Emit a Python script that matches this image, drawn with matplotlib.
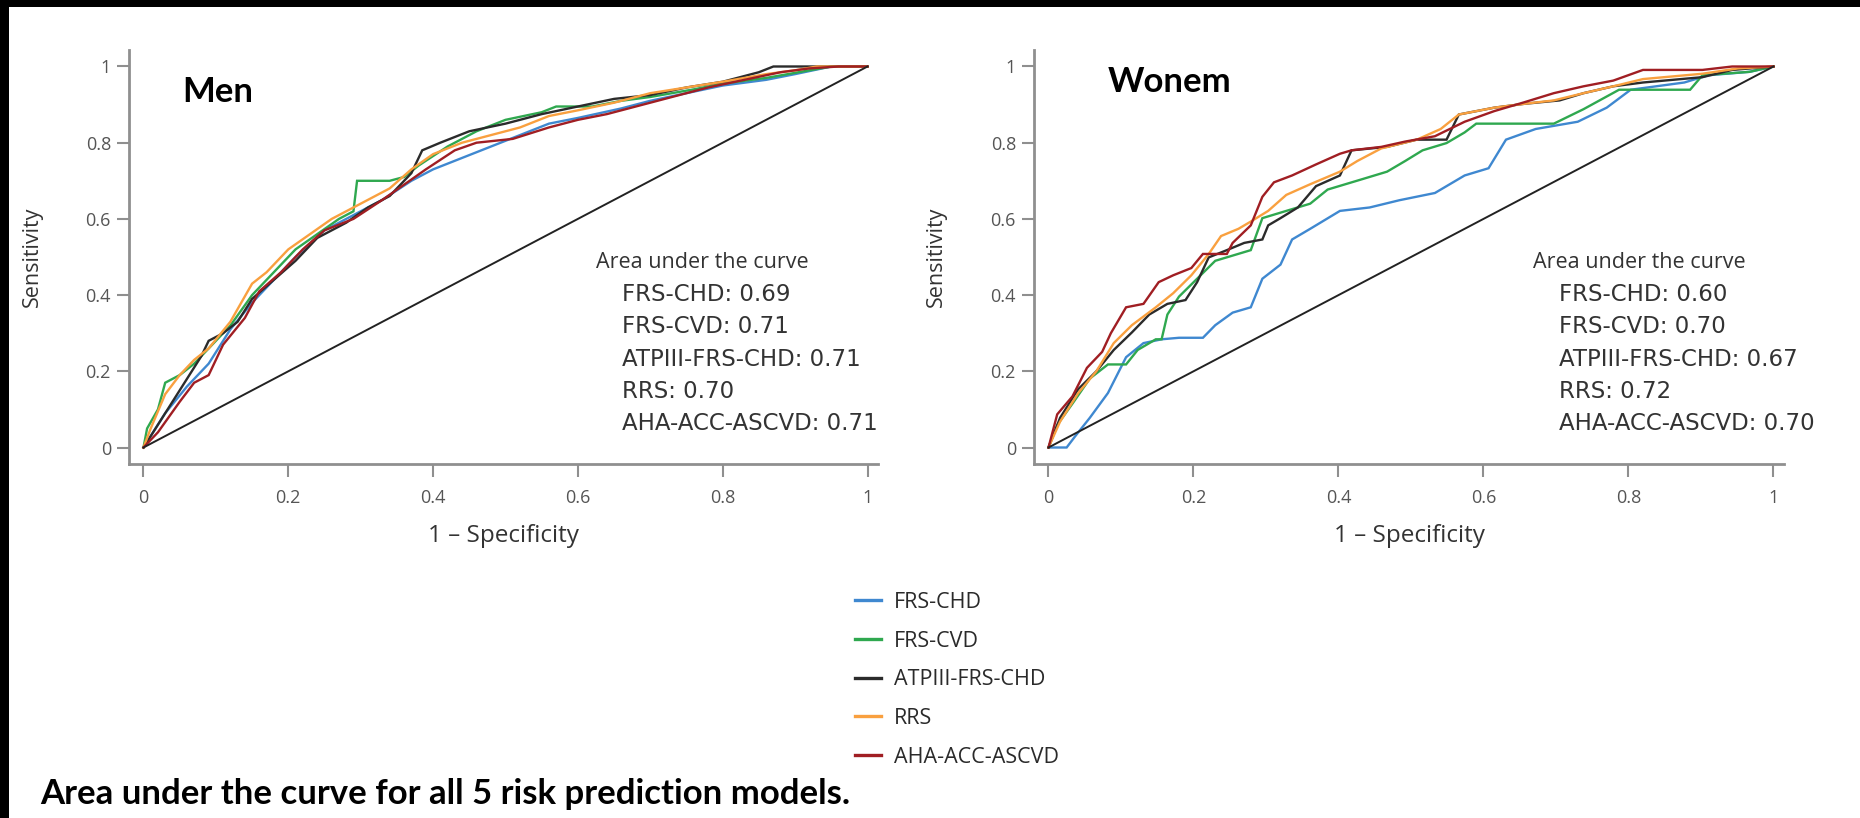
import matplotlib
matplotlib.use("Agg")
import matplotlib.pyplot as plt
from matplotlib.patches import Rectangle

# ---------------- data ----------------
models = ["FRS-CHD", "FRS-CVD", "ATPIII-FRS-CHD", "RRS", "AHA-ACC-ASCVD"]
colors = ["#3f88d0", "#2fa84f", "#2b2b2b", "#f9a03f", "#a01e23"]

tick_vals = [0, 0.2, 0.4, 0.6, 0.8, 1]
tick_labels = ["0", "0.2", "0.4", "0.6", "0.8", "1"]

auc_men = ["0.69", "0.71", "0.71", "0.70", "0.71"]
auc_women = ["0.60", "0.70", "0.67", "0.72", "0.70"]

# Men ROC curves (fpr, tpr)
men_frs_chd_x = [0, 0.01, 0.03, 0.06, 0.09, 0.12, 0.15, 0.18, 0.21, 0.25, 0.29, 0.33, 0.37, 0.40, 0.44, 0.48, 0.52, 0.56, 0.60, 0.66, 0.70, 0.75, 0.80, 0.86, 0.90, 0.95, 1]
men_frs_chd_y = [0, 0.03, 0.09, 0.16, 0.22, 0.31, 0.38, 0.44, 0.50, 0.57, 0.61, 0.65, 0.70, 0.73, 0.76, 0.79, 0.82, 0.85, 0.865, 0.89, 0.91, 0.93, 0.95, 0.965, 0.98, 1.0, 1]

men_frs_cvd_x = [0, 0.005, 0.02, 0.03, 0.05, 0.07, 0.09, 0.12, 0.15, 0.18, 0.21, 0.24, 0.27, 0.29, 0.295, 0.34, 0.36, 0.38, 0.42, 0.46, 0.50, 0.55, 0.57, 0.62, 0.66, 0.70, 0.76, 0.80, 0.86, 0.92, 0.95, 1]
men_frs_cvd_y = [0, 0.05, 0.10, 0.17, 0.19, 0.22, 0.26, 0.32, 0.40, 0.46, 0.52, 0.56, 0.60, 0.62, 0.70, 0.70, 0.71, 0.74, 0.79, 0.83, 0.86, 0.88, 0.895, 0.895, 0.91, 0.92, 0.94, 0.955, 0.97, 0.99, 1.0, 1]

men_atp_x = [0, 0.02, 0.05, 0.08, 0.09, 0.11, 0.13, 0.15, 0.18, 0.21, 0.24, 0.28, 0.31, 0.34, 0.37, 0.385, 0.41, 0.45, 0.50, 0.55, 0.60, 0.65, 0.70, 0.75, 0.80, 0.85, 0.87, 1]
men_atp_y = [0, 0.06, 0.15, 0.24, 0.28, 0.30, 0.33, 0.39, 0.44, 0.49, 0.55, 0.59, 0.63, 0.66, 0.72, 0.78, 0.80, 0.83, 0.85, 0.875, 0.895, 0.915, 0.925, 0.945, 0.96, 0.985, 1.0, 1]

men_rrs_x = [0, 0.01, 0.03, 0.05, 0.07, 0.09, 0.12, 0.15, 0.17, 0.20, 0.23, 0.26, 0.30, 0.34, 0.37, 0.40, 0.44, 0.48, 0.52, 0.56, 0.60, 0.65, 0.70, 0.75, 0.80, 0.86, 0.90, 0.93, 1]
men_rrs_y = [0, 0.05, 0.14, 0.19, 0.23, 0.26, 0.33, 0.43, 0.46, 0.52, 0.56, 0.60, 0.64, 0.68, 0.73, 0.77, 0.80, 0.82, 0.84, 0.87, 0.885, 0.905, 0.93, 0.945, 0.96, 0.98, 0.99, 1.0, 1]

men_aha_x = [0, 0.02, 0.05, 0.07, 0.09, 0.11, 0.14, 0.16, 0.19, 0.22, 0.25, 0.29, 0.33, 0.36, 0.39, 0.43, 0.46, 0.51, 0.56, 0.60, 0.64, 0.68, 0.72, 0.78, 0.83, 0.88, 0.92, 0.96, 1]
men_aha_y = [0, 0.04, 0.12, 0.17, 0.19, 0.27, 0.34, 0.41, 0.46, 0.52, 0.57, 0.60, 0.65, 0.69, 0.73, 0.78, 0.80, 0.81, 0.84, 0.86, 0.875, 0.895, 0.915, 0.945, 0.965, 0.985, 0.995, 1.0, 1]

# Women ROC curves (fpr, tpr)
wom_frs_chd_x = [0, 0.025, 0.037, 0.057, 0.082, 0.107, 0.131, 0.156, 0.18, 0.213, 0.23, 0.254, 0.279, 0.295, 0.32, 0.336, 0.361, 0.402, 0.443, 0.484, 0.533, 0.574, 0.607, 0.631, 0.672, 0.730, 0.770, 0.803, 0.877, 0.91, 0.967, 1]
wom_frs_chd_y = [0, 0.0, 0.03, 0.078, 0.143, 0.237, 0.274, 0.284, 0.288, 0.288, 0.321, 0.354, 0.368, 0.443, 0.48, 0.546, 0.574, 0.621, 0.63, 0.649, 0.668, 0.714, 0.733, 0.808, 0.836, 0.855, 0.892, 0.939, 0.958, 0.977, 0.986, 1]

wom_frs_cvd_x = [0, 0.012, 0.033, 0.057, 0.082, 0.107, 0.123, 0.148, 0.156, 0.164, 0.18, 0.205, 0.23, 0.279, 0.295, 0.361, 0.385, 0.434, 0.467, 0.492, 0.516, 0.549, 0.574, 0.59, 0.697, 0.738, 0.787, 0.885, 0.902, 0.967, 1]
wom_frs_cvd_y = [0, 0.059, 0.115, 0.181, 0.218, 0.218, 0.256, 0.284, 0.284, 0.349, 0.396, 0.443, 0.49, 0.518, 0.602, 0.64, 0.677, 0.705, 0.724, 0.752, 0.78, 0.799, 0.827, 0.85, 0.85, 0.888, 0.939, 0.939, 0.977, 0.986, 1]

wom_atp_x = [0, 0.016, 0.041, 0.066, 0.09, 0.115, 0.139, 0.164, 0.189, 0.205, 0.221, 0.246, 0.27, 0.295, 0.303, 0.32, 0.344, 0.369, 0.402, 0.418, 0.467, 0.508, 0.549, 0.566, 0.615, 0.656, 0.705, 0.738, 0.779, 0.82, 0.902, 0.943, 1]
wom_atp_y = [0, 0.078, 0.153, 0.20, 0.256, 0.302, 0.349, 0.377, 0.387, 0.434, 0.499, 0.518, 0.537, 0.546, 0.583, 0.602, 0.63, 0.686, 0.714, 0.78, 0.789, 0.808, 0.808, 0.874, 0.892, 0.902, 0.911, 0.93, 0.948, 0.958, 0.972, 0.991, 1]

wom_rrs_x = [0, 0.016, 0.041, 0.066, 0.09, 0.115, 0.148, 0.172, 0.197, 0.221, 0.238, 0.262, 0.279, 0.303, 0.328, 0.361, 0.402, 0.426, 0.459, 0.508, 0.541, 0.566, 0.615, 0.656, 0.697, 0.738, 0.779, 0.82, 0.902, 0.951, 1]
wom_rrs_y = [0, 0.068, 0.143, 0.20, 0.274, 0.321, 0.368, 0.405, 0.452, 0.508, 0.555, 0.574, 0.593, 0.621, 0.663, 0.691, 0.724, 0.752, 0.785, 0.808, 0.836, 0.874, 0.892, 0.902, 0.911, 0.93, 0.948, 0.967, 0.981, 0.995, 1]

wom_aha_x = [0, 0.012, 0.033, 0.053, 0.074, 0.086, 0.107, 0.131, 0.152, 0.172, 0.197, 0.213, 0.246, 0.254, 0.279, 0.295, 0.311, 0.336, 0.369, 0.402, 0.418, 0.459, 0.492, 0.533, 0.574, 0.615, 0.656, 0.697, 0.738, 0.779, 0.820, 0.902, 0.943, 1]
wom_aha_y = [0, 0.087, 0.134, 0.209, 0.251, 0.30, 0.368, 0.377, 0.434, 0.452, 0.471, 0.508, 0.508, 0.537, 0.583, 0.658, 0.696, 0.714, 0.743, 0.771, 0.78, 0.789, 0.803, 0.817, 0.855, 0.883, 0.906, 0.93, 0.948, 0.963, 0.991, 0.991, 1.0, 1]

ref_x = [0, 1]
ref_y = [0, 1]

men_curves = [(men_frs_chd_x, men_frs_chd_y), (men_frs_cvd_x, men_frs_cvd_y),
              (men_atp_x, men_atp_y), (men_rrs_x, men_rrs_y), (men_aha_x, men_aha_y)]
wom_curves = [(wom_frs_chd_x, wom_frs_chd_y), (wom_frs_cvd_x, wom_frs_cvd_y),
              (wom_atp_x, wom_atp_y), (wom_rrs_x, wom_rrs_y), (wom_aha_x, wom_aha_y)]

# ---------------- figure ----------------
W, H = 1860, 818
fig = plt.figure(figsize=(W / 100, H / 100), dpi=100)
fig.patch.set_facecolor("white")


def fx(px):
    return px / W


def fy(py):
    return 1 - py / H


SPINE = "#8f8f8f"
TXT = "#333333"
BASE = "Open Sans"


def make_panel(left_px, right_px, curves, auc, title, title_px, auc_px, ylab_px):
    width = (right_px - left_px) / W
    ax = fig.add_axes([fx(left_px), fy(464), width, (464 - 50) / H])
    for (xs, ys), c in zip(curves, colors):
        ax.plot(xs, ys, color=c, lw=1.7, solid_joinstyle="miter")
    ax.plot(ref_x, ref_y, color="#222222", lw=1.4)
    ax.set_xlim(-0.02, 1.0145)
    ax.set_ylim(-0.0433, 1.0433)
    for s in ("top", "right"):
        ax.spines[s].set_visible(False)
    for s in ("left", "bottom"):
        ax.spines[s].set_color(SPINE)
        ax.spines[s].set_linewidth(2.0)
    ax.set_xticks(tick_vals)
    ax.set_xticklabels(tick_labels)
    ax.set_yticks(tick_vals)
    ax.set_yticklabels(tick_labels)
    ax.tick_params(axis="both", direction="out", length=9, width=1.5,
                   color=SPINE, labelcolor="#555555", labelsize=13)
    ax.tick_params(axis="x", pad=9)
    ax.tick_params(axis="y", pad=4)
    for lab in ax.get_xticklabels() + ax.get_yticklabels():
        lab.set_family(BASE)
    ax.set_xlabel("1 \u2013 Specificity", family=BASE, fontsize=17.5, color=TXT, labelpad=12)
    ax.set_ylabel("Sensitivity", family=BASE, fontsize=15.5, color=TXT)
    ax.yaxis.set_label_coords((ylab_px - left_px) / (right_px - left_px), 0.5)
    fig.text(fx(title_px[0]), fy(title_px[1]), title, family="Lato",
             fontweight="bold", fontsize=25, color="black", va="baseline")
    hx, hy = auc_px
    fig.text(fx(hx), fy(hy), "Area under the curve", family=BASE, fontsize=15.5,
             color=TXT, va="center")
    for i, (m, a) in enumerate(zip(models, auc)):
        fig.text(fx(hx + 26), fy(hy + 32.5 + 32.3 * i), f"{m}: {a}",
                 family="DejaVu Sans", fontsize=16.5, color=TXT, va="center")
    return ax


ax1 = make_panel(129, 878, men_curves, auc_men, "Men", (182, 102), (596, 262), 43)
ax2 = make_panel(1034, 1784, wom_curves, auc_women, "Wonem", (1108, 92), (1533, 262), 947)

handles = ax1.get_lines()[:5]
leg = fig.legend(handles, models, loc="upper left",
                 bbox_to_anchor=(fx(855), fy(592)), frameon=False,
                 prop={"family": BASE, "size": 15.5}, labelcolor="#2a2a2a",
                 handlelength=1.2, handletextpad=0.6, labelspacing=0.82,
                 borderpad=0, borderaxespad=0)
for ln in leg.get_lines():
    ln.set_linewidth(2.4)

fig.text(fx(40), fy(804), "Area under the curve for all 5 risk prediction models.",
         family="Lato", fontweight="bold", fontsize=25, color="black", va="baseline")

# black border strips of the screenshot
fig.patches.append(Rectangle((0, fy(7)), 1, 7 / H, transform=fig.transFigure,
                             facecolor="black", edgecolor="none", zorder=10))
fig.patches.append(Rectangle((0, 0), 9 / W, 1, transform=fig.transFigure,
                             facecolor="black", edgecolor="none", zorder=10))

fig.savefig("out.png", dpi=100, facecolor="white")
